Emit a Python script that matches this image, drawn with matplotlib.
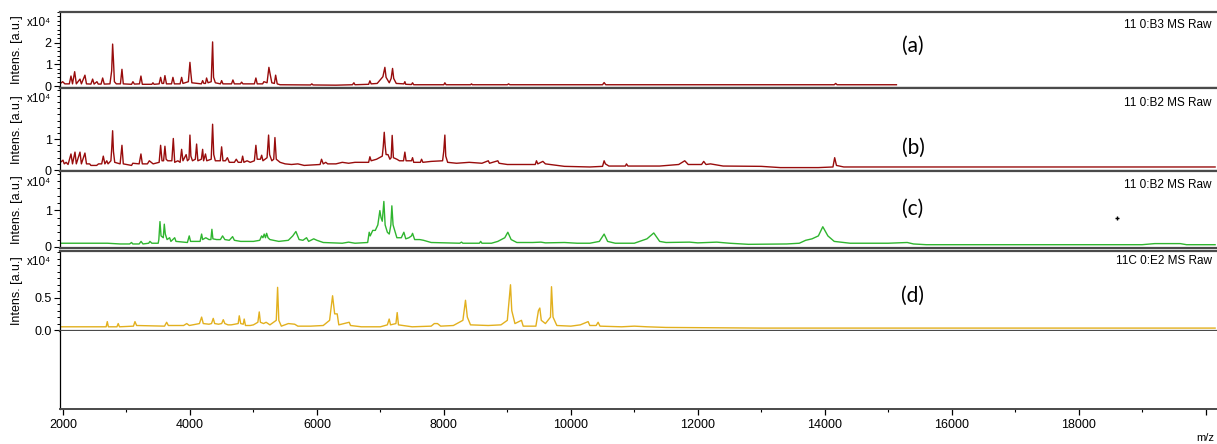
import numpy as np
import matplotlib
matplotlib.use("Agg")
import matplotlib.pyplot as plt
from matplotlib.ticker import MultipleLocator, FixedLocator

plt.rcParams['font.family'] = ['Liberation Sans', 'DejaVu Sans']

# spectrum (a) 11 0:B3, intensity in x10^4 a.u.
mz_a = [1960, 1995, 2030, 2100, 2126, 2150, 2184, 2210, 2268, 2290, 2346, 2370, 2440, 2467, 2490,
        2535, 2555, 2600, 2625, 2650, 2740, 2767, 2782, 2795, 2810, 2840, 2905, 2929, 2950, 3080,
        3102, 3125, 3205, 3228, 3250, 3400, 3417, 3435, 3515, 3538, 3560, 3585, 3606, 3630, 3710,
        3732, 3755, 3845, 3869, 3890, 3975, 4000, 4012, 4030, 4180, 4200, 4220, 4245, 4262, 4285,
        4335, 4357, 4372, 4400, 4480, 4499, 4520, 4655, 4677, 4700, 4795, 4814, 4835, 5015, 5039,
        5060, 5145, 5165, 5215, 5244, 5260, 5290, 5330, 5350, 5375, 5420, 5900, 5920, 5940, 6300,
        6560, 6583, 6600, 6815, 6835, 6855, 6950, 7040, 7071, 7090, 7140, 7170, 7192, 7210, 7250,
        7370, 7386, 7400, 7490, 7507, 7525, 8000, 8016, 8035, 8420, 8436, 8450, 9000, 9020, 9040,
        10500, 10525, 10550, 14150, 14173, 14195, 15130]
int_a = [0.12, 0.2, 0.1, 0.1, 0.46, 0.1, 0.66, 0.1, 0.32, 0.1, 0.5, 0.1, 0.09, 0.32, 0.09,
         0.2, 0.09, 0.09, 0.37, 0.09, 0.1, 0.7, 1.93, 1.2, 0.2, 0.1, 0.1, 0.77, 0.1, 0.08,
         0.2, 0.09, 0.1, 0.46, 0.08, 0.08, 0.15, 0.08, 0.1, 0.4, 0.12, 0.12, 0.48, 0.1, 0.1,
         0.4, 0.1, 0.1, 0.4, 0.12, 0.2, 1.09, 0.66, 0.15, 0.1, 0.25, 0.12, 0.12, 0.37, 0.15,
         0.2, 2.03, 0.4, 0.15, 0.1, 0.25, 0.1, 0.1, 0.28, 0.1, 0.1, 0.18, 0.1, 0.1, 0.37,
         0.1, 0.1, 0.2, 0.15, 0.86, 0.6, 0.15, 0.12, 0.5, 0.1, 0.06, 0.05, 0.1, 0.05, 0.04,
         0.06, 0.15, 0.06, 0.08, 0.24, 0.1, 0.12, 0.43, 0.86, 0.4, 0.15, 0.35, 0.81, 0.35, 0.12,
         0.1, 0.2, 0.08, 0.07, 0.15, 0.06, 0.06, 0.15, 0.06, 0.06, 0.1, 0.06, 0.06, 0.1, 0.06,
         0.06, 0.16, 0.06, 0.06, 0.12, 0.06, 0.06]

# spectrum (b) 11 0:B2
mz_b = [1960, 2000, 2020, 2050, 2080, 2126, 2150, 2189, 2210, 2268, 2290, 2346, 2370, 2420, 2440,
        2530, 2560, 2610, 2635, 2660, 2690, 2710, 2755, 2767, 2782, 2795, 2815, 2900, 2929, 2950,
        3080, 3100, 3200, 3228, 3250, 3330, 3360, 3420, 3515, 3538, 3560, 3585, 3606, 3625, 3650,
        3715, 3738, 3760, 3810, 3845, 3869, 3890, 3940, 3960, 3985, 4000, 4015, 4040, 4085, 4105,
        4125, 4180, 4200, 4215, 4245, 4265, 4335, 4357, 4375, 4400, 4478, 4499, 4520, 4560, 4590,
        4620, 4700, 4730, 4760, 4810, 4830, 4850, 4900, 4950, 5015, 5039, 5060, 5110, 5130, 5150,
        5215, 5239, 5255, 5290, 5320, 5339, 5360, 5420, 5500, 5600, 5700, 5800, 6050, 6073, 6100,
        6140, 6170, 6300, 6400, 6500, 6600, 6815, 6835, 6855, 6940, 7030, 7045, 7061, 7075, 7090,
        7120, 7150, 7170, 7186, 7205, 7260, 7300, 7365, 7386, 7405, 7490, 7507, 7525, 7630, 7649,
        7670, 7800, 7980, 7998, 8016, 8030, 8060, 8200, 8400, 8600, 8700, 8720, 8850, 8870, 9000,
        9300, 9440, 9459, 9480, 9560, 9600, 9900, 10300, 10500, 10525, 10545, 10600, 10860, 10877,
        10900, 11400, 11700, 11795, 11850, 12060, 12094, 12130, 12200, 12400, 13000, 13300, 13900,
        14130, 14157, 14185, 14300, 16000, 20150]
int_b = [0.25, 0.32, 0.2, 0.25, 0.18, 0.52, 0.2, 0.58, 0.2, 0.58, 0.2, 0.55, 0.2, 0.2, 0.15,
         0.15, 0.2, 0.2, 0.45, 0.2, 0.3, 0.2, 0.3, 0.67, 1.27, 0.6, 0.25, 0.2, 0.8, 0.2,
         0.15, 0.22, 0.2, 0.52, 0.2, 0.2, 0.3, 0.2, 0.25, 0.8, 0.3, 0.3, 0.77, 0.35, 0.3,
         0.3, 1.02, 0.25, 0.3, 0.25, 0.67, 0.3, 0.5, 0.3, 0.35, 1.13, 0.45, 0.3, 0.35, 0.84,
         0.3, 0.35, 0.67, 0.3, 0.52, 0.3, 0.35, 1.48, 0.5, 0.3, 0.3, 0.75, 0.3, 0.3, 0.4,
         0.25, 0.25, 0.35, 0.25, 0.25, 0.45, 0.25, 0.3, 0.25, 0.3, 0.8, 0.35, 0.35, 0.48, 0.3,
         0.4, 1.13, 0.5, 0.3, 0.35, 1.05, 0.35, 0.25, 0.2, 0.18, 0.2, 0.15, 0.18, 0.35, 0.2,
         0.25, 0.2, 0.2, 0.25, 0.22, 0.25, 0.25, 0.43, 0.3, 0.35, 0.45, 0.75, 1.22, 0.8, 0.5,
         0.5, 0.35, 0.4, 1.12, 0.4, 0.35, 0.3, 0.3, 0.58, 0.3, 0.3, 0.4, 0.25, 0.25, 0.35,
         0.25, 0.28, 0.3, 0.6, 1.13, 0.45, 0.25, 0.22, 0.25, 0.22, 0.3, 0.22, 0.3, 0.22, 0.18,
         0.18, 0.18, 0.3, 0.2, 0.28, 0.2, 0.12, 0.1, 0.12, 0.3, 0.2, 0.13, 0.13, 0.2,
         0.13, 0.13, 0.18, 0.3, 0.18, 0.18, 0.28, 0.18, 0.2, 0.13, 0.12, 0.08, 0.08,
         0.1, 0.4, 0.15, 0.1, 0.1, 0.1]

# spectrum (c) 11 0:B2
mz_c = [1960, 2700, 2900, 3050, 3080, 3100, 3200, 3230, 3260, 3350, 3370, 3400, 3500, 3510, 3528,
        3545, 3580, 3596, 3612, 3640, 3680, 3700, 3760, 3780, 3960, 3989, 4010, 4080, 4160, 4184,
        4200, 4250, 4300, 4330, 4346, 4362, 4420, 4480, 4514, 4550, 4620, 4672, 4700, 4800, 5000,
        5100, 5129, 5150, 5170, 5190, 5208, 5230, 5260, 5400, 5550, 5620, 5669, 5720, 5780, 5837,
        5870, 5950, 6000, 6100, 6400, 6500, 6600, 6800, 6824, 6840, 6880, 6920, 6960, 6992, 7010,
        7030, 7055, 7075, 7110, 7140, 7165, 7181, 7200, 7260, 7330, 7370, 7400, 7450, 7490, 7507,
        7540, 7620, 7680, 7800, 8250, 8278, 8300, 8560, 8580, 8600, 8750, 8850, 8960, 9008, 9060,
        9150, 9400, 9530, 9600, 9900, 10100, 10300, 10450, 10525, 10580, 10700, 11000, 11200, 11307,
        11400, 11500, 11870, 12000, 12300, 12500, 12800, 13400, 13600, 13700, 13800, 13900, 13970,
        14050, 14150, 14400, 15000, 15300, 15400, 15600, 17500, 19000, 19200, 19600, 19700, 20150]
int_c = [0.1, 0.1, 0.08, 0.08, 0.12, 0.08, 0.08, 0.15, 0.08, 0.1, 0.15, 0.1, 0.1, 0.2, 0.69,
         0.3, 0.25, 0.62, 0.35, 0.2, 0.25, 0.15, 0.25, 0.15, 0.12, 0.3, 0.15, 0.15, 0.15, 0.35,
         0.2, 0.25, 0.2, 0.2, 0.48, 0.22, 0.2, 0.2, 0.3, 0.2, 0.18, 0.28, 0.18, 0.15, 0.15,
         0.18, 0.3, 0.25, 0.35, 0.25, 0.37, 0.25, 0.2, 0.15, 0.18, 0.3, 0.42, 0.2, 0.18, 0.25,
         0.15, 0.22, 0.18, 0.12, 0.1, 0.13, 0.1, 0.12, 0.4, 0.3, 0.45, 0.45, 0.6, 0.99, 0.8,
         0.7, 1.24, 0.6, 0.4, 0.35, 0.6, 1.12, 0.6, 0.25, 0.25, 0.4, 0.22, 0.25, 0.3, 0.37,
         0.2, 0.2, 0.18, 0.12, 0.1, 0.13, 0.1, 0.1, 0.15, 0.1, 0.1, 0.15, 0.25, 0.4, 0.2,
         0.12, 0.12, 0.13, 0.11, 0.12, 0.1, 0.1, 0.15, 0.35, 0.15, 0.1, 0.1, 0.22, 0.38,
         0.15, 0.12, 0.13, 0.11, 0.13, 0.1, 0.07, 0.08, 0.1, 0.18, 0.22, 0.3, 0.55,
         0.3, 0.15, 0.1, 0.1, 0.12, 0.08, 0.06, 0.06, 0.06, 0.09, 0.09, 0.06, 0.06]

# spectrum (d) 11C 0:E2
mz_d = [1960, 2680, 2698, 2715, 2850, 2870, 2890, 3110, 3134, 3160, 3600, 3633, 3660, 3900, 3950,
        3990, 4150, 4184, 4210, 4300, 4340, 4367, 4390, 4450, 4500, 4525, 4550, 4600, 4650, 4760,
        4777, 4800, 4840, 4855, 4875, 4950, 5000, 5070, 5092, 5110, 5160, 5200, 5260, 5360, 5381,
        5400, 5440, 5550, 5650, 5700, 5900, 6100, 6200, 6247, 6280, 6320, 6345, 6509, 6530, 6700,
        7000, 7110, 7139, 7160, 7245, 7265, 7285, 7500, 7800, 7850, 7900, 7950, 8150, 8300, 8341,
        8370, 8420, 8700, 8900, 9000, 9050, 9070, 9120, 9223, 9250, 9450, 9490, 9512, 9535, 9600,
        9680, 9696, 9720, 9780, 10000, 10150, 10273, 10300, 10400, 10430, 10460, 10800, 11000, 11200,
        11500, 13000, 20150]
int_d = [0.05, 0.05, 0.13, 0.05, 0.05, 0.1, 0.05, 0.06, 0.13, 0.07, 0.06, 0.12, 0.07, 0.07, 0.1,
         0.07, 0.1, 0.2, 0.1, 0.09, 0.1, 0.18, 0.1, 0.09, 0.1, 0.16, 0.1, 0.08, 0.08, 0.1,
         0.22, 0.1, 0.09, 0.17, 0.07, 0.07, 0.08, 0.12, 0.28, 0.12, 0.1, 0.12, 0.08, 0.15, 0.66,
         0.15, 0.06, 0.1, 0.09, 0.06, 0.06, 0.07, 0.15, 0.53, 0.25, 0.25, 0.08, 0.12, 0.07, 0.05,
         0.05, 0.08, 0.17, 0.08, 0.1, 0.27, 0.08, 0.05, 0.06, 0.1, 0.1, 0.06, 0.07, 0.15, 0.46,
         0.2, 0.08, 0.07, 0.08, 0.15, 0.7, 0.3, 0.1, 0.15, 0.06, 0.06, 0.3, 0.34, 0.15, 0.1,
         0.2, 0.67, 0.2, 0.07, 0.06, 0.08, 0.13, 0.07, 0.07, 0.12, 0.06, 0.05, 0.06, 0.05,
         0.04, 0.03, 0.03]

stray_mz = [18598]
stray_int = [0.79]

spectra = [(mz_a, int_a), (mz_b, int_b), (mz_c, int_c), (mz_d, int_d)]
colors = ['#980c0c', '#980c0c', '#2fb52f', '#e2b01e']
titles = ['11 0:B3 MS Raw', '11 0:B2 MS Raw', '11 0:B2 MS Raw', '11C 0:E2 MS Raw']
tags = ['(a)', '(b)', '(c)', '(d)']
ylims = [(-0.09, 3.42), (-0.03, 2.65), (-0.03, 2.07), (-0.015, 1.23)]
yticks = [[0, 1, 2], [0, 1], [0, 1], [0.0, 0.5]]
yminor = [0.2, 0.2, 0.2, 0.1]
xlim = (1953, 20180)

W, H = 1217, 444
fig = plt.figure(figsize=(W / 100, H / 100), dpi=100)

# panel extents in pixels (top, bottom)
bands = [(11.7, 88), (88, 171), (171, 248), (250.5, 331)]
x0 = 60 / W

axes = []
for i, (top, bot) in enumerate(bands):
    ax = fig.add_axes([x0, 1 - bot / H, 1 - x0, (bot - top) / H])
    mz, inten = spectra[i]
    ax.plot(mz, inten, color=colors[i], lw=1.0)
    ax.set_xlim(*xlim)
    ax.set_ylim(*ylims[i])
    ax.yaxis.set_major_locator(FixedLocator(yticks[i]))
    ax.yaxis.set_minor_locator(MultipleLocator(yminor[i]))
    if i == 3:
        ax.set_yticklabels(['0.0', '0.5'])
    ax.tick_params(axis='y', which='major', direction='out', length=4, width=0.8, labelsize=9, pad=2)
    ax.tick_params(axis='y', which='minor', direction='out', length=2.5, width=0.7)
    ax.tick_params(axis='x', which='both', bottom=False, labelbottom=False)
    for s in ['top', 'bottom']:
        ax.spines[s].set_color('#4a4a4a')
        ax.spines[s].set_linewidth(1.6)
    ax.spines['right'].set_visible(False)
    ax.spines['left'].set_linewidth(0.9)
    ax.text(0.9955, 0.82 if i != 3 else 0.87, titles[i], transform=ax.transAxes,
            ha='right', va='center', fontsize=8.5)
    fig.text(913 / W, 1 - [46, 148, 209, 296][i] / H, tags[i], ha='center', va='center',
             fontsize=15, family=['Lato', 'DejaVu Sans'])
    fig.text(27 / W, 1 - (top + 11.5) / H, 'x10⁴', ha='left', va='center', fontsize=8.5)
    fig.text(17 / W, 1 - (top + bot) / 2 / H, 'Intens. [a.u.]', rotation=90,
             ha='center', va='center', fontsize=9)
    axes.append(ax)

axes[2].plot(stray_mz, stray_int, marker='+', color='black', ms=3, mew=1, lw=0)

# empty bottom panel carrying the m/z axis
axb = fig.add_axes([x0, 1 - 409 / H, 1 - x0, (409 - 331) / H])
axb.set_xlim(*xlim)
axb.set_yticks([])
axb.spines['top'].set_visible(False)
axb.spines['right'].set_visible(False)
axb.spines['left'].set_linewidth(0.9)
axb.spines['bottom'].set_color('#4a4a4a')
axb.spines['bottom'].set_linewidth(1.4)
axb.xaxis.set_major_locator(FixedLocator(list(range(2000, 20001, 2000))))
axb.xaxis.set_minor_locator(MultipleLocator(1000))
axb.set_xticklabels([str(v) for v in range(2000, 19000, 2000)] + [''])
axb.tick_params(axis='x', which='major', direction='out', length=4, width=0.9, labelsize=9, pad=3)
axb.tick_params(axis='x', which='minor', direction='out', length=2.5, width=0.8)
fig.text(1205 / W, 1 - 438 / H, 'm/z', ha='center', va='center', fontsize=8)

fig.savefig('out.png', dpi=100)
